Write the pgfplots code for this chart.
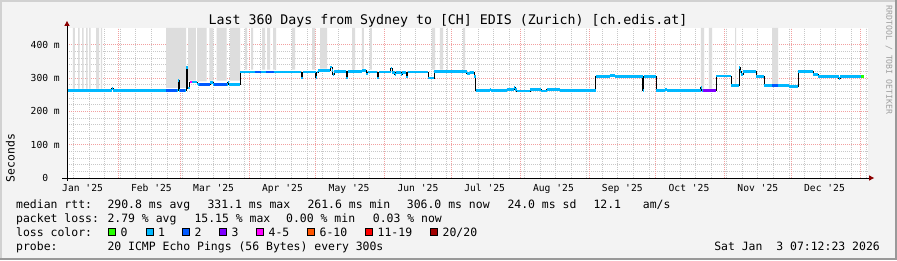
\documentclass[border=0pt]{standalone}
\usepackage{pgfplots}
\usepackage{pgfplotstable}
\pgfplotsset{compat=1.18}
\usepackage{fontspec}
\setmonofont{DejaVu Sans Mono}
\renewcommand{\familydefault}{\ttdefault}
\definecolor{canvas}{HTML}{F3F3F3}
\definecolor{mgrid}{HTML}{F2A0A0}
\definecolor{mingrid}{HTML}{C8C8C8}
\definecolor{smoke}{HTML}{DDDDDD}
\definecolor{l0}{HTML}{26FF00}
\definecolor{l1}{HTML}{00B8FF}
\definecolor{l2}{HTML}{0059FF}
\definecolor{l3}{HTML}{7E00FF}
\definecolor{l4}{HTML}{FF00FF}
\definecolor{l6}{HTML}{FF5500}
\definecolor{l11}{HTML}{FF0000}
\definecolor{l20}{HTML}{A10000}
\definecolor{arrowred}{HTML}{8B0000}

% median rtt (days since 1 Jan 2025, ms), step function
\pgfplotstableread{
x y
8.0 262.5
28.2 268
28.9 262.5
58.0 292
58.6 262.5
61.6 332
62.4 270
63.2 288
66.6 282
67.1 280
72.4 286
73.9 280
80.4 288
80.9 280
85.9 318
113.5 300
114.1 318
119.9 302
120.5 318
121.1 322
126.6 333
127.3 322
127.7 310
128.3 320
133.7 300
134.3 320
140.7 323
142.6 312
143.3 318
147.7 300
148.3 318
153.7 330
154.3 316
155.5 310
156.0 316
158.5 310
159.0 316
160.8 303
161.4 318
170.5 300
173.4 320
187.9 313
189.2 316
191.4 305
192.0 262
198.2 265
198.7 262
205.9 266
209.3 272
209.8 266
210.5 261
216.5 265
221.4 261
224.0 265
230.0 262
246.0 305
252.5 308
254.7 305
267.2 262
267.7 305
273.3 262
277.2 265
277.9 262
293.2 272
293.8 262
300.2 306
306.9 277
310.5 332
311.0 320
311.6 310
312.4 320
318.2 305
321.9 277
333.0 275
337.2 320
344.0 310
346.2 305
355.5 298
356.2 305
366.8 305
}\med

\begin{document}
\begin{tikzpicture}[x=1bp,y=1bp]
\fill[canvas] (0,0) rectangle (897,260);
\fill[black!18] (0,257.5) rectangle (897,260);
\fill[black!18] (0,0) rectangle (2,260);
\fill[black!40] (0,0) rectangle (897,2.5);
\fill[black!40] (894.5,0) rectangle (897,260);
\useasboundingbox (0,0) rectangle (897,260);

\begin{axis}[
  at={(67bp,82bp)}, anchor=south west,
  scale only axis, width=801bp, height=150bp,
  xmin=8, xmax=368.6, ymin=0, ymax=450,
  axis background/.style={fill=white},
  axis line style={draw=none},
  major tick length=0pt, minor tick length=0pt,
  xtick={15,46,74,105,135,166,196,227,258,288,319,349},
  xticklabels={Jan '25,Feb '25,Mar '25,Apr '25,May '25,Jun '25,Jul '25,Aug '25,Sep '25,Oct '25,Nov '25,Dec '25},
  minor xtick={11,18,...,368},
  extra x ticks={31,59,90,120,151,181,212,243,273,304,334,365},
  extra x tick labels={},
  extra x tick style={grid=major},
  xmajorgrids=false, xminorgrids=true,
  ytick={0,100,200,300,400},
  yticklabels={{0\phantom{00}},100 m,200 m,300 m,400 m},
  minor y tick num=4,
  ymajorgrids=true, yminorgrids=true,
  major grid style={mgrid, line width=0.8bp, dash pattern=on 1bp off 1bp},
  minor grid style={mingrid, line width=0.8bp, dash pattern=on 1bp off 1bp},
  tick label style={font=\fontsize{9.7}{10}\selectfont, inner sep=0pt},
  xticklabel style={anchor=base, yshift=-13bp},
  yticklabel style={anchor=base east, xshift=-7bp, yshift=-3.5bp},
  unbounded coords=jump,
  clip=true,
]
% smoke
\addplot[fill=smoke, draw=none] coordinates {
(10.7,450)(10.7,268)(11.6,268)(11.6,450)(nan,nan)
(13.0,450)(13.0,268)(13.7,268)(13.7,450)(nan,nan)
(14.8,450)(14.8,268)(15.5,268)(15.5,450)(nan,nan)
(16.6,450)(16.6,268)(17.3,268)(17.3,450)(nan,nan)
(18.0,450)(18.0,268)(18.6,268)(18.6,450)(nan,nan)
(21.1,450)(21.1,268)(22.5,268)(22.5,450)(nan,nan)
(23.3,450)(23.3,268)(23.8,268)(23.8,450)(nan,nan)
(52.6,450)(52.6,270)(61.6,270)(61.6,450)(nan,nan)
(62.5,450)(62.5,292)(66.0,292)(66.0,450)(nan,nan)
(66.6,450)(66.6,290)(70.9,290)(70.9,450)(nan,nan)
(72.1,450)(72.1,292)(73.9,292)(73.9,450)(nan,nan)
(75.4,450)(75.4,292)(79.9,292)(79.9,450)(nan,nan)
(81.4,450)(81.4,292)(85.9,292)(85.9,450)(nan,nan)
(88.2,450)(88.2,325)(89.1,325)(89.1,450)(nan,nan)
(90.9,450)(90.9,325)(91.8,325)(91.8,450)(nan,nan)
(95.8,450)(95.8,325)(97.2,325)(97.2,450)(nan,nan)
(98.1,450)(98.1,325)(99.4,325)(99.4,450)(nan,nan)
(100.8,450)(100.8,325)(102.1,325)(102.1,450)(nan,nan)
(109.3,450)(109.3,325)(110.7,325)(110.7,450)(nan,nan)
(118.3,450)(118.3,325)(119.7,325)(119.7,450)(nan,nan)
(121.9,450)(121.9,328)(125.1,328)(125.1,450)(nan,nan)
(136.3,450)(136.3,325)(137.7,325)(137.7,450)(nan,nan)
(140.8,450)(140.8,328)(141.7,328)(141.7,450)(nan,nan)
(144.4,450)(144.4,325)(145.3,325)(145.3,450)(nan,nan)
(172.3,450)(172.3,325)(173.7,325)(173.7,450)(nan,nan)
(175.9,450)(175.9,325)(177.3,325)(177.3,450)(nan,nan)
(179.1,450)(179.1,325)(179.5,325)(179.5,450)(nan,nan)
(186.3,450)(186.3,325)(187.2,325)(187.2,450)(nan,nan)
(293.4,450)(293.4,268)(294.8,268)(294.8,450)(nan,nan)
(297.0,450)(297.0,268)(298.4,268)(298.4,450)(nan,nan)
(308.8,450)(308.8,282)(309.2,282)(309.2,450)(nan,nan)
(325.4,450)(325.4,282)(328.1,282)(328.1,450)
};
% black median steps
\addplot[black, line width=0.9bp, const plot mark left] table[x=x,y=y] {\med};
% loss-coloured median (1/20 loss)
\addplot[l1, line width=2.6bp, jump mark left] table[x=x,y=y] {\med};
% other loss colours
\addplot[l2, line width=2.6bp] coordinates {(52.6,262.5)(57.4,262.5)};
\addplot[l2, line width=2.6bp] coordinates {(59.0,262.5)(61.2,262.5)};
\addplot[l2, line width=2.6bp] coordinates {(67.5,280)(72.4,280)};
\addplot[l2, line width=2.6bp] coordinates {(74.0,280)(80.0,280)};
\addplot[l2, line width=2.6bp] coordinates {(92.7,318)(95.5,318)};
\addplot[l2, line width=2.6bp] coordinates {(97.5,318)(101.0,318)};
\addplot[l2, line width=2.6bp] coordinates {(325.2,277)(328.2,277)};
\addplot[l4, line width=2.6bp] coordinates {(63.4,288)(64.2,288)};
\addplot[l3, line width=2.6bp] coordinates {(294.5,262)(300.2,262)};
\addplot[l0, line width=2.6bp] coordinates {(365.4,305)(366.8,305)};
\end{axis}

% axes with arrows
\draw[black, line width=1bp] (62,82) -- (869,82);
\fill[arrowred] (869,79.3) -- (874,82) -- (869,84.7) -- cycle;
\draw[black, line width=1bp] (67,79.5) -- (67,234);
\fill[arrowred] (64.3,234) -- (67,239) -- (69.7,234) -- cycle;

% title and axis label
\node[anchor=base, inner sep=0pt, font=\fontsize{13.3}{14}\selectfont] at (448,236)
  {Last 360 Days from Sydney to [CH] EDIS (Zurich) [ch.edis.at]};
\node[anchor=base, rotate=90, inner sep=0pt, font=\fontsize{11.5}{12}\selectfont] at (14.5,102)
  {Seconds};
\node[anchor=center, rotate=-90, inner sep=0pt, text=black!38, font=\fontsize{8.2}{9}\selectfont] at (889,200)
  {RRDTOOL / TOBI OETIKER};

% legend
\begin{scope}[every node/.style={anchor=base west, inner sep=0pt, font=\fontsize{11.5}{12}\selectfont}]
\node at (16,51.7) {median rtt:};
\node at (107.3,51.7) {290.8 ms avg};
\node at (207.3,51.7) {331.1 ms max};
\node at (307.3,51.7) {261.6 ms min};
\node at (406.7,51.7) {306.0 ms now};
\node at (507.3,51.7) {24.0 ms sd};
\node at (593.3,51.7) {12.1};
\node at (642.7,51.7) {am/s};
\node at (16,37.5) {packet loss:};
\node at (107.3,37.5) {2.79 \% avg};
\node at (194.3,37.5) {15.15 \% max};
\node at (286,37.5) {0.00 \% min};
\node at (372.7,37.5) {0.03 \% now};
\node at (16,23.4) {loss color:};
\node at (120.5,23.4) {0};
\node at (158,23.4) {1};
\node at (194.5,23.4) {2};
\node at (231.5,23.4) {3};
\node at (268.5,23.4) {4-5};
\node at (319.5,23.4) {6-10};
\node at (377.5,23.4) {11-19};
\node at (442.5,23.4) {20/20};
\node at (16,9.3) {probe:};
\node at (107.3,9.3) {20 ICMP Echo Pings (56 Bytes) every 300s};
\node[anchor=base east] at (880,9.3) {Sat Jan~~3 07:12:23 2026};
\end{scope}
\foreach \bx/\c in {108/l0,146/l1,182/l2,219/l3,256/l4,307/l6,365/l11,430/l20}{
  \filldraw[fill=\c, draw=black, line width=0.8bp] (\bx,24.3) rectangle (\bx+7.5,31.7);
}
\end{tikzpicture}
\end{document}
